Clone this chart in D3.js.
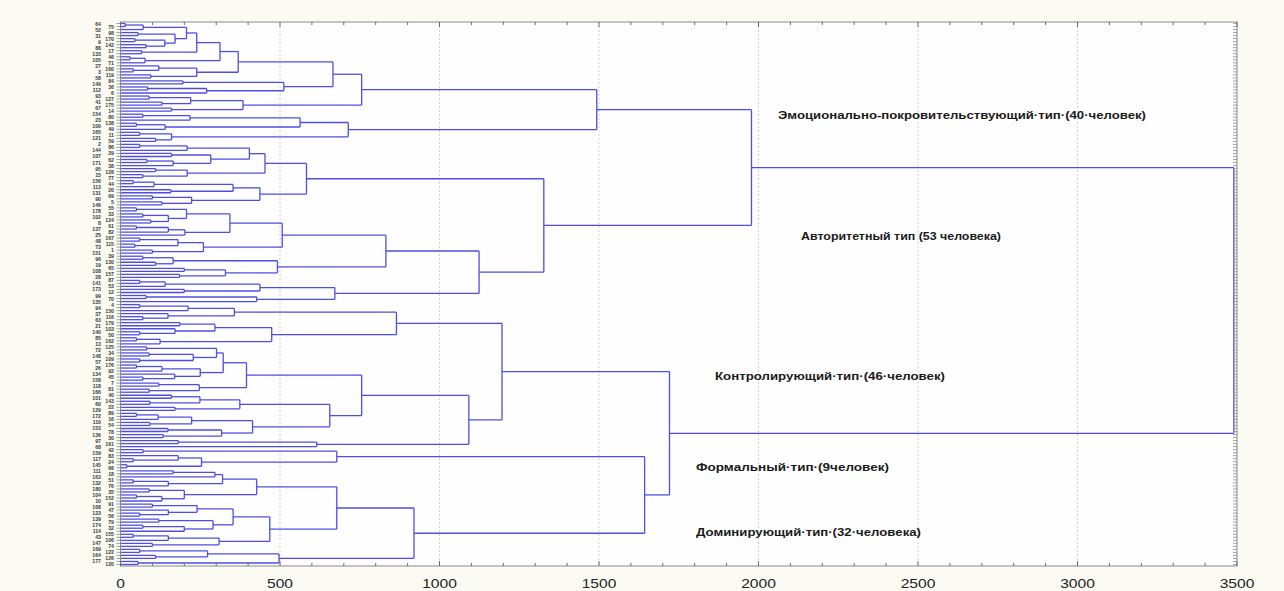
<!DOCTYPE html>
<html>
<head>
<meta charset="utf-8">
<script src="https://cdn.jsdelivr.net/npm/d3@7"></script>
<style>
  html, body { margin: 0; padding: 0; background: #fbfbf3; }
  svg { display: block; }
</style>
</head>
<body>
<svg id="chart" width="1284" height="591"></svg>
<script>
// ---- data: each cluster is [linkage distance, child, child]; a bare number is a case ----
const emotionalTree = [1493,
  [756,
    [666,
      [369,
        [312,
          [239,
            [207, [71, [15, 64, 75], 52], [171, [55, 98, 31], [139, [45, 170, 9], [80, 142, 88]]]],
            [66, 17, 133]],
          [77, [30, 46, 105], 71]],
        [239, [120, 27, [40, 160, 3]], [95, 119, 58]]],
      [512, [196, 84, 149], [270, [85, 36, 112], 6]]],
    [384, [220, [90, 93, 127], [130, 41, 175]], [160, 67, 14]]],
  [714, [563, [218, [70, 154, 80], 23], [140, [50, 138, 100], 49]], [160, [60, 165, 11], [110, 121, 59]]]
];

const authoritarianTree = [1327,
  [583,
    [453,
      [404, [209, [60, 2, 86], 144], [283, [160, 29, 107], [165, [83, 62, 171], 38]]],
      [209, [110, 95, 128], [70, 15, 77]]],
    [437, [353, [105, [40, 156, 44], 113], [158, 20, 131]], [223, [100, 69, 90], [130, 5, 146]]]],
  [1124,
    [832,
      [507,
        [343, [207, [50, 55, 178], [150, [70, 33, 102], [95, 124, 8]]], [202, [150, [50, 61, 137], 82], 25]],
        [260, [180, [60, 167, 48], [45, 115, 73]], [100, 1, 151]]],
      [492, [165, [70, 39, 96], [110, 130, 19]], [329, [200, 65, 108], [185, 157, 28]]]],
    [672, [437, [140, [60, 87, 141], 53], [200, 173, 12]], [427, [80, 99, 70], 135]]]
];

const controllingTree = [1196,
  [865,
    [357, [212, [60, 4, 94], 150], [149, 37, [70, 116, 63]]],
    [474, [296, [186, 179, 21], [171, 103, [60, 140, 50]]], [124, [50, 85, 162], 13]]],
  [1092,
    [756,
      [395,
        [322, [301, [82, 125, 72], [228, [90, 34, 148], [60, 109, 57]]],
              [250, [130, [50, 176, 26], 92], [170, 134, [70, 45, 158]]]],
        [247, [120, 7, 118], [90, 81, 166]]],
      [656,
        [374, [249, [160, 40, 101], [92, 143, 60]], [171, 22, 129]],
        [414, [223, [118, [50, 89, 172], 16], [92, 110, 54]], [317, [149, 153, 78], [134, 136, 30]]]]],
    [615, [181, 97, 161], 68]]
];

const formalTree = [678, [71, 42, 159], [254, [181, 83, [40, 117, 24]], [20, 145, 66]]];

const dominantTree = [920,
  [678,
    [427, [320, [296, [165, 111, 18], 163], [150, [40, 51, 132], 76]],
          [200, [90, 180, 35], [130, [50, 104, 152], 10]]],
    [468, [353, [240, [100, 91, 168], [150, 47, [60, 123, 56]]], [290, [120, 139, 79], [200, [70, 174, 32], 114]]],
          [309, [150, [40, 155, 43], 106], [100, 147, 74]]]],
  [497, [273, [60, 169, 122], [110, 164, 126]], [55, 177, 120]]
];

// upper merges: root, emotional+authoritarian, controlling+rest, formal+dominant
const upperMerges = [3490, 1978, 1721, 1643];

const xTicks = [0, 500, 1000, 1500, 2000, 2500, 3000, 3500];

const clusterNotes = [
  "Эмоционально-покровительствующий·тип·(40·человек)",
  "Авторитетный тип (53 человека)",
  "Контролирующий·тип·(46·человек)",
  "Формальный·тип·(9человек)",
  "Доминирующий·тип·(32·человека)"
];

// ---- layout ----
const plot = { left: 120.5, right: 1237, top: 22, bottom: 566 };
const notePos = [
  { x: 778, y: 118.5, w: 368 },
  { x: 801, y: 239.5, w: 200 },
  { x: 715, y: 380, w: 230 },
  { x: 696, y: 470.5, w: 193 },
  { x: 696, y: 536, w: 225 }
];
const linkColor = "#4e4ee2";

const svg = d3.select("#chart");

const x = d3.scaleLinear().domain([0, 3500]).range([plot.left, plot.right]);

const tree = [upperMerges[0],
  [upperMerges[1], emotionalTree, authoritarianTree],
  [upperMerges[2], controllingTree, [upperMerges[3], formalTree, dominantTree]]];

const root = d3.hierarchy(tree, d => Array.isArray(d) ? d.slice(1) : null);
root.each(n => { n.h = Array.isArray(n.data) ? n.data[0] : 0; });

const leaves = root.leaves();
const y = d3.scalePoint()
  .domain(leaves.map(d => String(d.data)))
  .range([plot.top, plot.bottom])
  .padding(0.5);

root.eachAfter(n => {
  n.py = n.children ? d3.mean(n.children, c => c.py) : y(String(n.data));
});

// plot background
svg.append("rect")
  .attr("x", plot.left).attr("y", plot.top)
  .attr("width", plot.right - plot.left).attr("height", plot.bottom - plot.top)
  .attr("fill", "#fefefe");

// grid
svg.append("g")
  .selectAll("line")
  .data(xTicks.filter(t => t > 0 && t < 3500))
  .join("line")
    .attr("x1", d => x(d)).attr("x2", d => x(d))
    .attr("y1", plot.top).attr("y2", plot.bottom)
    .attr("stroke", "#d2d2d2")
    .attr("stroke-dasharray", "2,2");

// dendrogram links
const segs = [];
root.descendants().forEach(n => {
  if (!n.children) return;
  const ys = n.children.map(c => c.py);
  segs.push([n.h, d3.min(ys), n.h, d3.max(ys)]);
  n.children.forEach(c => segs.push([c.h, c.py, n.h, c.py]));
});

svg.append("g")
  .selectAll("line")
  .data(segs)
  .join("line")
    .attr("x1", d => x(d[0])).attr("y1", d => d[1])
    .attr("x2", d => x(d[2])).attr("y2", d => d[3])
    .attr("stroke", linkColor)
    .attr("stroke-width", 1.3);

// frame
svg.append("rect")
  .attr("x", plot.left).attr("y", plot.top)
  .attr("width", plot.right - plot.left).attr("height", plot.bottom - plot.top)
  .attr("fill", "none")
  .attr("stroke", "#8a8a8a");

// x ticks (bottom and top, pointing inward)
const minor = d3.range(0, 3501, 100);
const tickG = svg.append("g").attr("stroke", "#6a6a6a");
minor.forEach(v => {
  const len = v % 500 === 0 ? 5 : 3;
  tickG.append("line").attr("x1", x(v)).attr("x2", x(v))
    .attr("y1", plot.bottom).attr("y2", plot.bottom - len);
  tickG.append("line").attr("x1", x(v)).attr("x2", x(v))
    .attr("y1", plot.top).attr("y2", plot.top + len);
});

// leaf ticks on the left and right edges
const leafTicks = svg.append("g").attr("stroke", "#8a8a8a").attr("stroke-width", 0.8);
leaves.forEach(l => {
  leafTicks.append("line").attr("x1", plot.right - 4).attr("x2", plot.right)
    .attr("y1", l.py).attr("y2", l.py);
  leafTicks.append("line").attr("x1", plot.left - 4).attr("x2", plot.left)
    .attr("y1", l.py).attr("y2", l.py);
});

// x tick labels
svg.append("g")
  .selectAll("text")
  .data(xTicks)
  .join("text")
    .attr("transform", d => `translate(${x(d)},588) scale(1.25,1)`)
    .attr("text-anchor", "middle")
    .attr("font-family", "Liberation Sans, Arial, sans-serif")
    .attr("font-size", 12.5)
    .attr("fill", "#222")
    .text(d => d);

// case labels, staggered in two columns so the dense list stays readable
svg.append("g")
  .selectAll("text")
  .data(leaves)
  .join("text")
    .attr("x", (d, i) => i % 2 ? 114 : 101)
    .attr("y", d => d.py + 2)
    .attr("text-anchor", "end")
    .attr("font-family", "Liberation Sans, Arial, sans-serif")
    .attr("font-weight", "bold")
    .attr("font-size", 5.2)
    .attr("fill", "#3a3a3a")
    .text(d => d.data);

// cluster notes
svg.append("g")
  .selectAll("text")
  .data(clusterNotes)
  .join("text")
    .attr("x", (d, i) => notePos[i].x)
    .attr("y", (d, i) => notePos[i].y)
    .attr("textLength", (d, i) => notePos[i].w)
    .attr("lengthAdjust", "spacingAndGlyphs")
    .attr("font-family", "Liberation Sans, Arial, sans-serif")
    .attr("font-weight", "bold")
    .attr("font-size", 11.5)
    .attr("fill", "#1a1a1a")
    .text(d => d);
</script>
</body>
</html>
